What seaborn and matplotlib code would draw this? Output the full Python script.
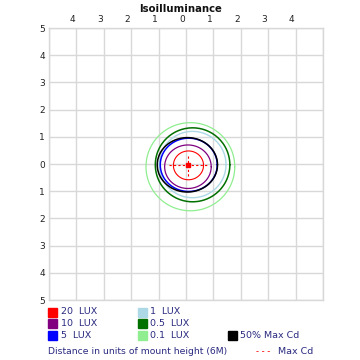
import numpy as np
import pandas as pd
import matplotlib
matplotlib.use('Agg')
import matplotlib.pyplot as plt
import matplotlib.transforms as mtransforms
from matplotlib.patches import Rectangle
import seaborn as sns

# contour data (units of mount height)
levels = ['0.1 LUX', '0.5 LUX', '1 LUX', '5 LUX', '50% Max Cd', '10 LUX', '20 LUX']
colors = ['#90ee90', '#007000', '#add8e6', '#0000ff', '#000000', '#800080', '#ff0000']
center_x = [0.16, 0.24, 0.24, 0.10, 0.05, 0.07, 0.09]
center_y = [-0.10, -0.03, -0.02, -0.03, -0.03, -0.10, -0.05]
radius_x = [1.62, 1.36, 1.22, 1.04, 1.10, 0.85, 0.55]
radius_y = [1.62, 1.36, 1.22, 0.98, 1.00, 0.80, 0.53]
widths = [0.9, 1.1, 1.0, 1.1, 1.1, 0.9, 0.8]

maxcd_x = 0.09
maxcd_y = -0.03
maxcd_half_x = 0.70
maxcd_half_y = 0.40

ticks = [-5, -4, -3, -2, -1, 0, 1, 2, 3, 4, 5]
xtick_labels = ['', '4', '3', '2', '1', '0', '1', '2', '3', '4', '']
ytick_labels = ['5', '4', '3', '2', '1', '0', '1', '2', '3', '4', '5']

col1 = ['20  LUX', '10  LUX', '5  LUX']
col1_colors = ['#ff0000', '#800080', '#0000ff']
col2 = ['1  LUX', '0.5  LUX', '0.1  LUX']
col2_colors = ['#add8e6', '#007000', '#90ee90']

sns.set_style('white')
fig = plt.figure(figsize=(3.6, 3.6), dpi=100)
ax = fig.add_axes([49 / 360, 1 - 300 / 360, 274 / 360, 272 / 360])

theta = np.linspace(0, 2 * np.pi, 200)
for i, lev in enumerate(levels):
    df = pd.DataFrame({
        'x': center_x[i] + radius_x[i] * np.cos(theta),
        'y': center_y[i] + radius_y[i] * np.sin(theta),
    })
    sns.lineplot(data=df, x='x', y='y', sort=False, estimator=None,
                 color=colors[i], linewidth=widths[i], ax=ax)

# Max Cd cross
ax.plot([maxcd_x - maxcd_half_x, maxcd_x + maxcd_half_x], [maxcd_y, maxcd_y],
        color='#ff0000', linestyle=(0, (2, 2)), linewidth=0.8)
ax.plot([maxcd_x, maxcd_x], [maxcd_y - maxcd_half_y, maxcd_y + maxcd_half_y],
        color='#ff0000', linestyle=(0, (2, 2)), linewidth=0.8)
ax.plot([maxcd_x], [maxcd_y], marker='s', markersize=2.8, color='#ff0000')

ax.set_xlim(-5, 5)
ax.set_ylim(-5, 5)
ax.set_xlabel('')
ax.set_ylabel('')
ax.set_xticks(ticks)
ax.set_yticks(ticks)
ax.set_xticklabels(xtick_labels)
ax.set_yticklabels(ytick_labels)
ax.xaxis.tick_top()
ax.yaxis.tick_left()
ax.tick_params(axis='both', length=0, labelsize=6.5, colors='#222222', pad=3)
shift = mtransforms.ScaledTranslation(-4 / 100, 0, fig.dpi_scale_trans)
for lab in ax.get_xticklabels():
    lab.set_transform(lab.get_transform() + shift)
ax.grid(True, color='#d8d8d8', linewidth=1)
for s in ax.spines.values():
    s.set_color('#d8d8d8')
    s.set_linewidth(1)

fig.text(181 / 360, 1 - 9 / 360, 'Isoilluminance', ha='center', va='center',
         fontsize=7.3, fontweight='bold', color='#111111')

txt_color = '#2a2a80'
rows_y = [312, 323, 335]
for i in range(3):
    y = rows_y[i]
    fig.patches.append(Rectangle((48 / 360, 1 - (y + 4.5) / 360), 9 / 360, 9 / 360,
                                 transform=fig.transFigure, color=col1_colors[i]))
    fig.text(61 / 360, 1 - y / 360, col1[i], ha='left', va='center',
             fontsize=6.8, color=txt_color)
    fig.patches.append(Rectangle((138 / 360, 1 - (y + 4.5) / 360), 9 / 360, 9 / 360,
                                 transform=fig.transFigure, color=col2_colors[i]))
    fig.text(150 / 360, 1 - y / 360, col2[i], ha='left', va='center',
             fontsize=6.8, color=txt_color)

fig.patches.append(Rectangle((228 / 360, 1 - (335 + 4.5) / 360), 9 / 360, 9 / 360,
                             transform=fig.transFigure, color='#000000'))
fig.text(240 / 360, 1 - 335 / 360, '50% Max Cd', ha='left', va='center',
         fontsize=6.8, color=txt_color)
fig.text(48 / 360, 1 - 352 / 360, 'Distance in units of mount height (6M)',
         ha='left', va='center', fontsize=6.7, color=txt_color)
fig.text(256 / 360, 1 - 352 / 360, '- - -', ha='left', va='center',
         fontsize=6, color='#ff0000')
fig.text(278 / 360, 1 - 352 / 360, 'Max Cd', ha='left', va='center',
         fontsize=6.8, color=txt_color)

fig.savefig('out.png', dpi=100)
